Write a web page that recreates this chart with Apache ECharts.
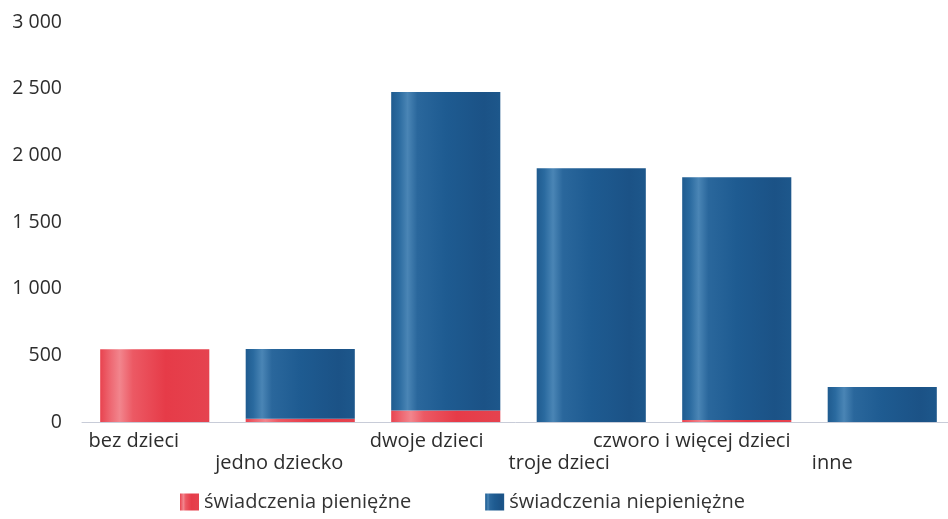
<!DOCTYPE html>
<html>
<head>
<meta charset="utf-8">
<script src="https://cdn.jsdelivr.net/npm/echarts@6/dist/echarts.min.js"></script>
<style>html,body{margin:0;padding:0;background:#fff;}#c{width:948px;height:519px;}</style>
</head>
<body>
<div id="c"></div>
<script>
const categories = ['bez dzieci', 'jedno dziecko', 'dwoje dzieci', 'troje dzieci', 'czworo i więcej dzieci', 'inne'];
const seriesNames = ['świadczenia pieniężne', 'świadczenia niepieniężne'];
const pieniezne = [545, 25, 86, 0, 15, 0];
const niepieniezne = [0, 523, 2389, 1903, 1820, 262];
const yTicks = [0, 500, 1000, 1500, 2000, 2500, 3000];

const chart = echarts.init(document.getElementById('c'), null, {renderer: 'canvas'});
const font = 'Open Sans';
const labelShift = [21, 21, 19, 32, 45, 50];

const blueGrad = new echarts.graphic.LinearGradient(0, 0, 1, 0, [
  {offset: 0, color: '#1f5b8f'},
  {offset: 0.07, color: '#2a6a9f'},
  {offset: 0.15, color: '#4a85b5'},
  {offset: 0.24, color: '#2a679c'},
  {offset: 0.5, color: '#1e5b91'},
  {offset: 0.85, color: '#1b5286'},
  {offset: 1, color: '#1d578b'}
]);
const redGrad = new echarts.graphic.LinearGradient(0, 0, 1, 0, [
  {offset: 0, color: '#e8434f'},
  {offset: 0.1, color: '#ee6a74'},
  {offset: 0.18, color: '#f2858d'},
  {offset: 0.3, color: '#ec5964'},
  {offset: 0.6, color: '#e63b48'},
  {offset: 1, color: '#e5434f'}
]);

const option = {
  backgroundColor: '#ffffff',
  animation: false,
  grid: {left: 82, top: 22, right: -7, bottom: 97, containLabel: false, outerBoundsMode: 'none'},
  legend: {
    left: 180, top: 492, padding: 0,
    icon: 'rect', itemWidth: 19, itemHeight: 17, itemGap: 74,
    textStyle: {fontFamily: font, fontSize: 20, color: '#333333', padding: [0, 0, 0, 0]},
    data: seriesNames
  },
  xAxis: {
    type: 'category',
    data: categories.map((c, i) => ({
      value: c,
      textStyle: {padding: [i % 2 ? 22 : 0, labelShift[i] * 2, 0, 0]}
    })),
    axisLine: {show: true, lineStyle: {color: '#c8ccd8', width: 1}},
    axisTick: {show: false},
    axisLabel: {
      interval: 0, margin: 9, fontFamily: font, fontSize: 20, color: '#2d2d2d',
      lineHeight: 20
    }
  },
  yAxis: {
    type: 'value',
    min: yTicks[0], max: yTicks[yTicks.length - 1], interval: 500,
    splitLine: {show: false},
    axisLine: {show: false},
    axisTick: {show: false},
    axisLabel: {
      margin: 20, fontFamily: font, fontSize: 19.5, color: '#2d2d2d',
      formatter: v => String(v).replace(/\B(?=(\d{3})+(?!\d))/g, ' ')
    }
  },
  series: [
    {
      name: seriesNames[0], type: 'bar', stack: 'total', barWidth: '75%',
      itemStyle: {color: redGrad},
      data: pieniezne
    },
    {
      name: seriesNames[1], type: 'bar', stack: 'total', barWidth: '75%',
      itemStyle: {color: blueGrad},
      data: niepieniezne
    }
  ]
};
chart.setOption(option);
</script>
</body>
</html>
